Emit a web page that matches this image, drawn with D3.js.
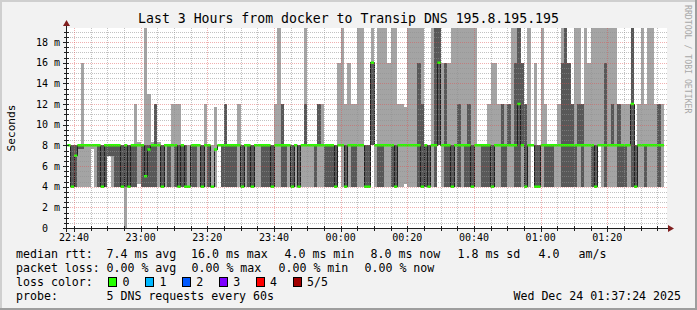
<!DOCTYPE html>
<html>
<head>
<meta charset="utf-8">
<script src="https://cdn.jsdelivr.net/npm/d3@7"></script>
<style>
  html, body { margin: 0; padding: 0; background: #f2f2f2; }
  svg { display: block; font-family: "DejaVu Sans Mono", monospace; }
</style>
</head>
<body>
<div id="chart"></div>
<script>
// one column per minute, 5 sorted DNS pings: min, 2nd, median, 4th, max (ms)
const minRtt = [
  8,4,4,4,4,4,4,7.6,4,4, 4,4,7,4,4,4,4,0,4,4, 4,4.3,4,4,4,4,4,4,4,4,
  4,4,4,4,4,4,4,4,4,4, 4,4,4,4,4,8,4,4,4,4, 4,4,4,4,4,4,4,4,4,4,
  4,4,4,4,4,4,4,4,4,4, 4,4,4,4,4,4,4,4,4,4, 4,8,4,4,4,4,4,4,4,4,
  4,8,4,4,4,4,4,4,4,4, 4,4.3,4,4,4,4,4,4,4,4, 4,8,4,4,4,4,4,4,4,4,
  4,4,4,4,4,4,4,4,4,4, 4,4,4,4,4,4,4,4,4,8, 4,4,4,4,4,4,4,4,4,4,
  4,4,4,4,4,4,4,4,4,8, 4,4,4,4,4,4,4,4,4,4, 4,4,4,4,4,4,4,4,4
];
const lowRtt = [
  8,4,4,7.6,7.6,8,8,8,8,4, 4,4,7,7,4,4,4,4,4,4, 4,8,4,4,4,4,4,8,4,8,
  4,8,4,4,4,4,4,4,4,8, 4,8,4,4,7.6,8,4,4,4,4, 4,8,4,8,4,4,8,8,4,4,
  4,4,8,8,4,4,8,4,8,4, 8,8,8,8,4,8,8,4,4,4, 4,8,8,4,8,4,4,8,8,4,
  4,8,8,4,4,8,8,4,4,8, 8,8,8,8,8,4,4,4,4,8, 4,8,8,4,4,4,8,4,8,4,
  4,4,8,8,4,4,4,4,8,8, 4,4,8,8,4,4,8,4,8,8, 4,4,8,4,4,4,8,8,4,4,
  4,4,4,8,4,8,8,4,4,8, 8,4,8,8,8,4,4,4,8,4, 4,8,8,4,8,8,8,4,8
];
const medianRtt = [
  8,4,7,8,8,8,8,8,8,8, 4,8,8,8,8,8,4,8,4,8, 8,8,8,5,7.6,8,8,8,4,8,
  8,8,8,4,8,4,4,8,8,8, 4,8,8,4,7.6,8,8,8,8,8, 8,8,4,8,8,4,8,8,8,8,
  8,4,8,8,8,8,8,4,8,4, 8,8,8,8,8,8,8,8,8,8, 4,8,8,4,8,8,8,8,8,4,
  4,16,8,8,8,8,8,8,4,8, 8,8,8,8,8,8,4,8,4,8, 8,16,8,8,8,4,8,8,8,8,
  8,4,8,8,8,8,8,4,8,8, 8,8,8,8,8,12,8,4,8,8, 4,4,8,8,8,8,8,8,8,8,
  8,8,8,8,8,8,8,8,4,8, 8,8,8,8,8,8,8,8,8,12, 4,8,8,8,8,8,8,8,8
];
const highRtt = [
  8,8,8,8,8,8,8,8,8,8, 8,8,8,8,8,8,8,8,8,8, 8,8,8,8,8,8,12,8,8,8,
  8,8,8,8,8,8,4,8,8,8, 8,8,8,4,7.6,8,8,12,8,8, 8,8,8,8,8,8,8,8,8,8,
  8,8,8,8,12,8,8,8,8,8, 8,12,8,8,8,12,8,8,8,8, 8,8,8,8,8,8,8,8,8,8,
  8,16,8,8,8,8,8,8,8,8, 8,8,8,8,8,16,12,8,8,8, 20,20,8,16,8,8,8,12,8,8,
  12,8,8,8,8,8,8,8,8,8, 12,8,12,8,16,20,16,12,8,8, 8,8,8,8,8,8,8,8,16,20,
  16,12,8,12,12,8,8,8,8,8, 8,16,8,12,8,12,8,8,8,20, 8,8,8,8,8,8,8,12,8
];
const maxRtt = [
  8,8,8,8,16,8,8,8,8,8, 8,8,8,8,8,8,8,8,8,8, 12,8.3,8,20,13,8.3,12,8.3,8,8,
  8,12,12,12,8,8,8,8,8,8, 8,12,8,8,11.7,8,8,12,8,8, 8,12,8,8,8,8,8,8,8,8,
  8,8,12,20,12,8,8,8,8,8, 8,20,8,8,8,12,12,8,8,8, 8,16,20,12,16,12,12,20,20,8,
  8,20,8,20,20,20,16,20,20,12, 12,11.7,20,20,20,20,20,8,8,20, 20,20,16,16,16,20,20,20,20,20,
  20,20,20,8,8,8,12,16,16,12, 12,12,12,20,20,20,16,12,20,8, 16,8,20,12,8,8,8,12,20,20,
  16,12,20,20,12,20,16,20,20,20, 20,20,20,20,20,12,12,12,12,20, 8,12,20,12,20,20,12,12,12
];

const yTickValues = [0, 2, 4, 6, 8, 10, 12, 14, 16, 18];
const timeLabels = ["22:40", "23:00", "23:20", "23:40", "00:00", "00:20", "00:40", "01:00", "01:20"];
const lossLabels = ["0", "1", "2", "3", "4", "5/5"];
const lossColors = ["#26ff00", "#00b8ff", "#0059ff", "#7e00ff", "#ff0000", "#a10000"];
const medianStats = ["7.4 ms avg", "16.0 ms max", "4.0 ms min", "8.0 ms now", "1.8 ms sd", "4.0", "am/s"];
const lossStats = ["0.00 % avg", "0.00 % max", "0.00 % min", "0.00 % now"];

const W = 697, H = 310;
const X0 = 67, X1 = 667, Y0 = 228, Y1 = 28;
const graphStart = new Date(2025, 11, 23, 22, 37, 54);
const graphEnd = d3.timeHour.offset(graphStart, 3);
const firstSample = new Date(2025, 11, 23, 22, 38, 0);

const x = d3.scaleTime().domain([graphStart, graphEnd]).range([X0, X1]);
const y = d3.scaleLinear().domain([0, 200 / 10.333]).range([Y0, Y1]);

const cols = minRtt.map((v, i) => ({
  t0: d3.timeMinute.offset(firstSample, i),
  t1: d3.timeMinute.offset(firstSample, i + 1),
  min: v, low: lowRtt[i], med: medianRtt[i], high: highRtt[i], max: maxRtt[i]
}));
const steps = cols.map(d => ({ ...d, t: d.t0 }));
steps.push({ ...cols[cols.length - 1], t: cols[cols.length - 1].t1 });

const svg = d3.select('#chart').append('svg')
  .attr('width', W).attr('height', H);

// dotted grid patterns, aligned on whole pixels
const defs = svg.append('defs');
const gridColors = { minor: 'rgba(143,143,143,0.55)', major: 'rgba(222,79,79,0.45)' };
Object.entries(gridColors).forEach(([k, c]) => {
  const ph = defs.append('pattern').attr('id', 'h' + k).attr('patternUnits', 'userSpaceOnUse')
    .attr('width', 2).attr('height', 1);
  ph.append('rect').attr('width', 1).attr('height', 1).attr('fill', c);
  const pv = defs.append('pattern').attr('id', 'v' + k).attr('patternUnits', 'userSpaceOnUse')
    .attr('width', 1).attr('height', 2);
  pv.append('rect').attr('width', 1).attr('height', 1).attr('fill', c);
});

// background + shaded frame
svg.append('rect').attr('width', W).attr('height', H).attr('fill', '#f2f2f2');
svg.append('path').attr('d', `M0,0H${W}V2H2V${H}H0Z`).attr('fill', '#cfcfcf');
svg.append('path').attr('d', `M${W},${H}H0V${H - 2}H${W - 2}V0H${W}Z`).attr('fill', '#9e9e9e');

svg.append('rect')
  .attr('x', X0).attr('y', Y1).attr('width', X1 - X0).attr('height', Y0 - Y1)
  .attr('fill', '#ffffff');

svg.append('clipPath').attr('id', 'plotclip')
  .append('rect').attr('x', X0).attr('y', Y1).attr('width', X1 - X0).attr('height', Y0 - Y1);

const plot = svg.append('g').attr('clip-path', 'url(#plotclip)');

// smoke
plot.append('path')
  .datum(steps)
  .attr('d', d3.area().curve(d3.curveStepAfter).x(d => x(d.t)).y0(d => y(d.min)).y1(d => y(d.max)))
  .attr('fill', '#a4a4a4')
  .attr('shape-rendering', 'crispEdges');
plot.append('path')
  .datum(steps)
  .attr('d', d3.area().curve(d3.curveStepAfter).x(d => x(d.t)).y0(d => y(d.low)).y1(d => y(d.high)))
  .attr('fill', '#585858')
  .attr('shape-rendering', 'crispEdges');

// grid
const grid = svg.append('g').attr('shape-rendering', 'crispEdges');
const ySteps = d3.range(1, Math.floor(y.domain()[1] * 2) + 1).map(k => k / 2);
ySteps.forEach(v => {
  const major = v % 2 === 0;
  grid.append('rect')
    .attr('x', X0).attr('width', X1 - X0)
    .attr('y', Math.round(y(v))).attr('height', 1)
    .attr('fill', major ? 'url(#hmajor)' : 'url(#hminor)');
});
x.ticks(d3.timeMinute.every(5)).forEach(t => {
  const major = t.getMinutes() % 20 === 0;
  grid.append('rect')
    .attr('x', Math.round(x(t))).attr('width', 1)
    .attr('y', Y1).attr('height', Y0 - Y1)
    .attr('fill', major ? 'url(#vmajor)' : 'url(#vminor)');
});

// median line
plot.append('path')
  .datum(steps)
  .attr('d', d3.line().curve(d3.curveStepAfter).x(d => x(d.t)).y(d => y(d.med)))
  .attr('fill', 'none')
  .attr('stroke', '#202020')
  .attr('stroke-width', 1)
  .attr('shape-rendering', 'crispEdges');
plot.append('path')
  .attr('d', cols.map(d => `M${x(d.t0)},${y(d.med)}H${x(d.t1)}`).join(''))
  .attr('fill', 'none')
  .attr('stroke', lossColors[0])
  .attr('stroke-width', 2.5);

// axes
const px = v => Math.round(v) + 0.5;
const axis = svg.append('g').attr('shape-rendering', 'crispEdges').attr('stroke', '#1f1f1f');
axis.append('line').attr('x1', 63).attr('x2', 669).attr('y1', Y0 + 0.5).attr('y2', Y0 + 0.5);
axis.append('line').attr('x1', X0 - 0.5).attr('x2', X0 - 0.5).attr('y1', Y0 + 4).attr('y2', Y1 - 2);
ySteps.forEach(v => {
  const major = v % 2 === 0;
  axis.append('line')
    .attr('x1', major ? 63 : 64).attr('x2', 69)
    .attr('y1', px(y(v))).attr('y2', px(y(v)));
});
x.ticks(d3.timeMinute.every(5)).forEach(t => {
  const major = t.getMinutes() % 20 === 0;
  axis.append('line')
    .attr('x1', px(x(t))).attr('x2', px(x(t)))
    .attr('y1', Y0 - 2).attr('y2', major ? Y0 + 4 : Y0 + 3);
});
svg.append('path').attr('d', 'M668,225L668,232L674,228.5Z').attr('fill', '#801f1f');
svg.append('path').attr('d', 'M63,26L70,26L66.5,20Z').attr('fill', '#801f1f');

// tick labels
const yl = svg.append('g').attr('font-size', '10px').attr('fill', '#000');
yTickValues.forEach(v => {
  yl.append('text').attr('x', 48).attr('y', y(v) + 3.6).attr('text-anchor', 'end').text(v);
  if (v !== 0) yl.append('text').attr('x', 54).attr('y', y(v) + 3.6).text('m');
});
const fmt = d3.timeFormat('%H:%M');
x.ticks(d3.timeMinute.every(20)).forEach(t => {
  if (!timeLabels.includes(fmt(t))) return;
  yl.append('text').attr('x', x(t)).attr('y', 240.5).attr('text-anchor', 'middle').text(fmt(t));
});

// titles
svg.append('text')
  .attr('x', 348.5).attr('y', 23).attr('text-anchor', 'middle')
  .attr('font-size', '13.2px')
  .text('Last 3 Hours from docker to Transip DNS 195.8.195.195');
svg.append('text')
  .attr('transform', 'translate(14.5,128) rotate(-90)')
  .attr('text-anchor', 'middle').attr('font-size', '11.2px')
  .text('Seconds');
svg.append('text')
  .attr('transform', 'translate(684.5,5) rotate(90)')
  .attr('font-size', '8.2px').attr('fill', '#a8a8a8')
  .text('RRDTOOL / TOBI OETIKER');

// legend
const lg = svg.append('g').attr('font-size', '11.6px').attr('fill', '#000').style('white-space', 'pre');
const put = (xx, yy, s, anchor) => lg.append('text').attr('x', xx).attr('y', yy)
  .attr('text-anchor', anchor || 'start').text(s);
put(16, 257.5, 'median rtt:');
[106.5, 191, 284.5, 370.5, 457.5, 538.5, 578.5].forEach((xx, i) => put(xx, 257.5, medianStats[i]));
put(16, 271.5, 'packet loss:');
[106.5, 191.5, 278.5, 364.5].forEach((xx, i) => put(xx, 271.5, lossStats[i]));
put(16, 285.5, 'loss color:');
lossLabels.forEach((lab, i) => {
  const bx = 108 + i * 36.9;
  lg.append('rect')
    .attr('x', Math.round(bx) + 0.5).attr('y', 277.5).attr('width', 8).attr('height', 9)
    .attr('fill', lossColors[i]).attr('stroke', '#000').attr('stroke-width', 1)
    .attr('shape-rendering', 'crispEdges');
  put(bx + 14.5, 285.5, lab);
});
put(16, 299.5, 'probe:');
put(106.5, 299.5, '5 DNS requests every 60s');
put(681, 299.5, 'Wed Dec 24 01:37:24 2025', 'end');
</script>
</body>
</html>
